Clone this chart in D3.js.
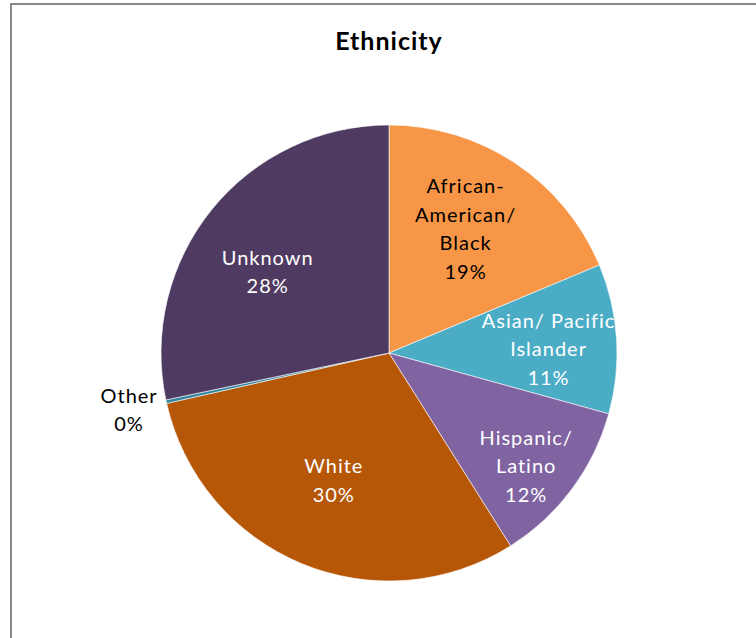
<!DOCTYPE html>
<html lang="en">
<head>
    <meta charset="UTF-8">
    <title>Ethnicity</title>
    <style>
        body { margin: 0; background: #fff; }
        text { font-family: Lato, "Open Sans", sans-serif; }
    </style>
</head>
<body>
    <div id="chart"></div>
    <script src="https://d3js.org/d3.v7.min.js"></script>
    <script>
        // data (percent)
        var categories = ["African-American/Black", "Asian/Pacific Islander", "Hispanic/Latino", "White", "Other", "Unknown"];
        var values = [18.7, 10.6, 11.75, 30.4, 0.25, 28.3];
        var labelLines = [["African-", "American/", "Black"], ["Asian/ Pacific", "Islander"], ["Hispanic/", "Latino"], ["White"], ["Other"], ["Unknown"]];
        var colors = ["#F79646", "#4BACC6", "#8064A2", "#B65708", "#31859C", "#4F3B62"];

        var width = 756, height = 638;
        var cx = 389, cy = 353, radius = 228;

        // label placement: fraction of radius, angle nudge in degrees, text colour
        var labelRadius = [0.64, 0.70, 0.78, 0.61, 1.167, 0.64];
        var labelTurn = [-2, 2.2, 2.9, 0.9, 0, -5.3];
        var labelFill = ["#000", "#fff", "#fff", "#fff", "#000", "#fff"];

        var svg = d3.select('#chart')
            .append('svg')
                .attr('width', width)
                .attr('height', height);

        svg.append('rect')
            .attr('x', 11)
            .attr('y', 4)
            .attr('width', width)
            .attr('height', height)
            .attr('fill', '#fff')
            .attr('stroke', '#898989')
            .attr('stroke-width', 2);

        svg.append('text')
            .attr('x', cx)
            .attr('y', 50)
            .attr('text-anchor', 'middle')
            .style('font-size', '25px')
            .style('font-weight', 'bold')
            .style('letter-spacing', '1px')
            .text('Ethnicity');

        var total = d3.sum(values);
        var pie = d3.pie().sort(null).value(function(d) { return d; });
        var arcs = pie(values);
        var arc = d3.arc().innerRadius(0).outerRadius(radius);

        var g = svg.append('g')
            .attr('transform', 'translate(' + cx + ',' + cy + ')');

        g.selectAll('path')
            .data(arcs)
            .enter().append('path')
                .attr('d', arc)
                .attr('fill', function(d, i) { return colors[i]; })
                .attr('stroke', '#fff')
                .attr('stroke-width', 0.6);

        // white labels get cut at the pie edge, as in the original
        svg.append('clipPath')
            .attr('id', 'pieClip')
            .append('circle')
                .attr('cx', 0)
                .attr('cy', 0)
                .attr('r', radius);

        var lineH = 28.5;
        var labels = g.selectAll('.label')
            .data(arcs)
            .enter().append('text')
                .attr('class', 'label')
                .attr('text-anchor', 'middle')
                .attr('clip-path', function(d, i) { return labelFill[i] === '#fff' ? 'url(#pieClip)' : null; })
                .style('font-size', '20px')
                .style('letter-spacing', '1px')
                .attr('fill', function(d, i) { return labelFill[i]; });

        labels.each(function(d, i) {
            var a = (d.startAngle + d.endAngle) / 2 + labelTurn[i] * Math.PI / 180;
            var r = radius * labelRadius[i];
            var x = Math.sin(a) * r, y = -Math.cos(a) * r;
            var lines = labelLines[i].concat([Math.round(d.value / total * 100) + '%']);
            var y0 = y - (lines.length - 1) * lineH / 2 + 7;
            d3.select(this).selectAll('tspan')
                .data(lines)
                .enter().append('tspan')
                    .attr('x', x)
                    .attr('y', function(t, j) { return y0 + j * lineH; })
                    .text(function(t) { return t; });
        });
    </script>
</body>
</html>
